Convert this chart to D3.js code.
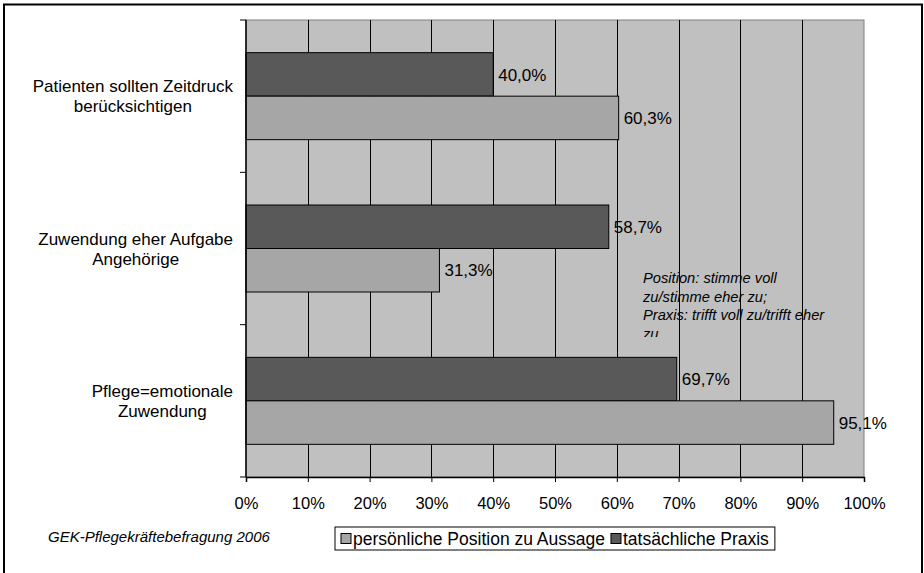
<!DOCTYPE html>
<html>
<head>
<meta charset="utf-8">
<script src="https://cdn.jsdelivr.net/npm/d3@7"></script>
<style>
  html, body { margin: 0; padding: 0; background: #fff; }
  svg { display: block; font-family: "Liberation Sans", Arial, sans-serif; }
</style>
</head>
<body>
<svg id="chart" width="924" height="573"></svg>
<script>
// ---- data ----
const categories = [
  ["Patienten sollten Zeitdruck", "berücksichtigen"],
  ["Zuwendung eher Aufgabe", "Angehörige"],
  ["Pflege=emotionale", "Zuwendung"]
];
const seriesNames = ["tatsächliche Praxis", "persönliche Position zu Aussage"];
const praxisValues = [40.0, 58.7, 69.7];
const positionValues = [60.3, 31.3, 95.1];
const tickValues = [0, 10, 20, 30, 40, 50, 60, 70, 80, 90, 100];
const noteLines = ["Position: stimme voll", "zu/stimme eher zu;", "Praxis: trifft voll zu/trifft eher", "zu"];
const sourceText = "GEK-Pflegekräftebefragung 2006";
const legendOrder = ["persönliche Position zu Aussage", "tatsächliche Praxis"];

const colors = {
  "tatsächliche Praxis": "#595959",
  "persönliche Position zu Aussage": "#a6a6a6"
};
const fmt = v => v.toFixed(1).replace(".", ",") + "%";

const svg = d3.select("#chart");
const W = 924, H = 573;
const plot = { left: 246, right: 864, top: 20, bottom: 477 };

svg.append("rect").attr("width", W).attr("height", H).attr("fill", "#fff");
// outer frame
svg.append("rect").attr("x", 4).attr("y", 4.5).attr("width", 918).attr("height", 580)
  .attr("fill", "none").attr("stroke", "#000").attr("stroke-width", 2);

const x = d3.scaleLinear().domain([0, 100]).range([plot.left, plot.right]);
const catIdx = d3.range(categories.length);
const pad = 0.429;
const y = d3.scaleBand().domain(catIdx).range([plot.top, plot.bottom])
  .paddingInner(pad).paddingOuter(pad / 2);
const ySub = d3.scaleBand().domain(seriesNames).range([0, y.bandwidth()]);

// plot background
svg.append("rect").attr("x", plot.left).attr("y", plot.top)
  .attr("width", plot.right - plot.left).attr("height", plot.bottom - plot.top)
  .attr("fill", "#c0c0c0").attr("stroke", "#808080").attr("stroke-width", 1);

// gridlines
svg.append("g").selectAll("line").data(tickValues.filter(d => d > 0 && d < 100)).join("line")
  .attr("x1", d => Math.round(x(d)) + 0.5).attr("x2", d => Math.round(x(d)) + 0.5)
  .attr("y1", plot.top).attr("y2", plot.bottom)
  .attr("stroke", "#000").attr("stroke-width", 1);

// bars
const rows = catIdx.map(i => ({ i, vals: [
  { s: seriesNames[0], v: praxisValues[i] },
  { s: seriesNames[1], v: positionValues[i] }
]}));
const g = svg.append("g").selectAll("g").data(rows).join("g")
  .attr("transform", d => `translate(0,${y(d.i)})`);
g.selectAll("rect").data(d => d.vals).join("rect")
  .attr("x", x(0)).attr("y", d => ySub(d.s))
  .attr("width", d => x(d.v) - x(0)).attr("height", ySub.bandwidth())
  .attr("fill", d => colors[d.s]).attr("stroke", "#000").attr("stroke-width", 1);
g.selectAll("text").data(d => d.vals).join("text")
  .attr("x", d => x(d.v) + 5).attr("y", d => ySub(d.s) + ySub.bandwidth() / 2)
  .attr("dy", "0.36em").attr("font-size", 17).attr("fill", "#000")
  .text(d => fmt(d.v));

// left axis line and ticks at category boundaries
const bounds = d3.range(categories.length + 1).map(i => plot.top + i * (plot.bottom - plot.top) / categories.length);
svg.append("line").attr("x1", plot.left).attr("x2", plot.left)
  .attr("y1", plot.top).attr("y2", plot.bottom).attr("stroke", "#000").attr("stroke-width", 1.5);
svg.append("g").selectAll("line").data(bounds).join("line")
  .attr("x1", plot.left - 6).attr("x2", plot.left)
  .attr("y1", d => d).attr("y2", d => d).attr("stroke", "#000");

// category labels: block right-aligned at 233, lines centered within
const labG = svg.append("g").attr("font-size", 17).attr("fill", "#000");
catIdx.forEach(i => {
  const cy = y(i) + y.bandwidth() / 2;
  const lines = categories[i];
  const ts = lines.map((t, k) => labG.append("text")
    .attr("y", cy + (k - (lines.length - 1) / 2) * 20)
    .attr("dy", "0.36em").attr("text-anchor", "middle").text(t));
  const maxW = d3.max(ts, t => t.node().getComputedTextLength());
  ts.forEach(t => t.attr("x", 233 - maxW / 2));
});

// bottom axis
const xAxis = d3.axisBottom(x).tickValues(tickValues).tickFormat(d => d + "%")
  .tickSize(5).tickPadding(15);
const ax = svg.append("g").attr("transform", `translate(0,${plot.bottom})`).call(xAxis);
ax.select(".domain").attr("stroke", "#000").attr("stroke-width", 1.5);
ax.selectAll(".tick line").attr("stroke", "#000");
ax.selectAll(".tick text").attr("font-size", 16.5).attr("fill", "#000")
  .attr("font-family", "Liberation Sans, Arial, sans-serif");

// note text (clipped)
svg.append("clipPath").attr("id", "noteClip").append("rect")
  .attr("x", 600).attr("y", 260).attr("width", 260).attr("height", 77);
svg.append("g").attr("clip-path", "url(#noteClip)")
  .selectAll("text").data(noteLines).join("text")
  .attr("x", 643).attr("y", (d, k) => 278 + k * 18.5).attr("dy", "0.36em")
  .attr("font-size", 14.7).attr("font-style", "italic").attr("fill", "#000")
  .text(d => d);

// source footnote
svg.append("text").attr("x", 48).attr("y", 537).attr("dy", "0.36em")
  .attr("font-size", 15).attr("font-style", "italic").attr("fill", "#000")
  .text(sourceText);

// legend
const lg = svg.append("g");
const lx = 335, ly = 527, lh = 23;
const box = lg.append("rect").attr("x", lx).attr("y", ly).attr("height", lh)
  .attr("fill", "#fff").attr("stroke", "#000").attr("stroke-width", 1);
let cx = lx + 6;
legendOrder.forEach(name => {
  lg.append("rect").attr("x", cx).attr("y", ly + 6.5).attr("width", 10).attr("height", 10)
    .attr("fill", colors[name]).attr("stroke", "#000");
  const t = lg.append("text").attr("x", cx + 12).attr("y", ly + lh / 2).attr("dy", "0.36em")
    .attr("font-size", 17.5).attr("fill", "#000").text(name);
  cx += 12 + t.node().getComputedTextLength() + 6;
});
box.attr("width", cx - lx);
</script>
</body>
</html>
